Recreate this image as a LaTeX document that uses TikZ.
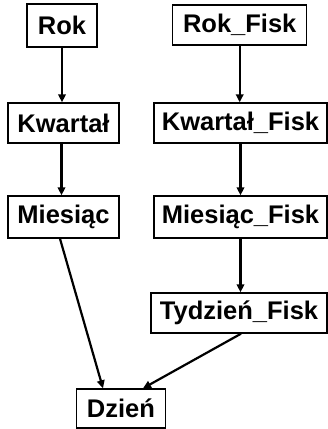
\documentclass[tikz,border=0pt]{standalone}
\usepackage{fontspec}
\setmainfont{Liberation Sans}
\usetikzlibrary{arrows.meta}
\tikzset{
  level/.style={draw, line width=1.4pt, inner sep=0pt, font=\fontsize{25.5}{29}\selectfont\bfseries, minimum height=40pt},
  link/.style={line width=2.2pt, -{Triangle[length=8pt,width=7.5pt]}}
}
\begin{document}
\begin{tikzpicture}[x=1pt,y=-1pt]
  \useasboundingbox (0,0) rectangle (328,429);
  % calendar hierarchy
  \node[level, minimum width=70pt, minimum height=43pt] (rok) at (62,25.5) {Rok};
  \node[level, minimum width=111pt] (kw) at (63.5,123) {Kwartał};
  \node[level, minimum width=111pt, minimum height=42pt] (mi) at (63.5,217) {Miesiąc};
  % fiscal hierarchy
  \node[level, minimum width=134pt] (rokf) at (239.7,25) {Rok\_Fisk};
  \node[level, minimum width=173pt] (kwf) at (240.5,123) {Kwartał\_Fisk};
  \node[level, minimum width=173pt, minimum height=42pt] (mif) at (240.5,217) {Miesiąc\_Fisk};
  \node[level, minimum width=176pt] (tyf) at (239,313) {Tydzień\_Fisk};
  % shared leaf
  \node[level, minimum width=88.6pt, minimum height=39pt] (dz) at (121,408.5) {Dzień};
  % links
  \draw[link] (rok.south) -- (rok.south |- kw.north);
  \draw[link] ([xshift=-2pt]kw.south) -- ([xshift=-2pt]mi.north);
  \draw[link] ([xshift=-3.5pt]mi.south) -- ([xshift=-18pt]dz.north);
  \draw[link] (rokf.south) -- (rokf.south |- kwf.north);
  \draw[link] (kwf.south) -- (mif.north);
  \draw[link] (mif.south) -- (mif.south |- tyf.north);
  \draw[link] ([xshift=2pt]tyf.south) -- ([xshift=22pt]dz.north);
\end{tikzpicture}
\end{document}
